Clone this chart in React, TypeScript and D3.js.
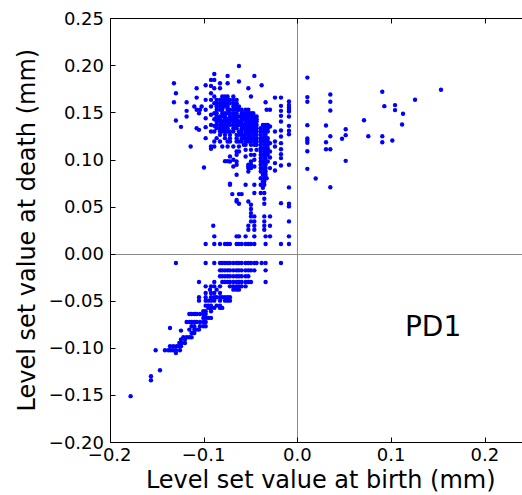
import React from 'react';
import * as d3 from 'd3';

const W = 522;
const H = 495;

const xDomain: [number, number] = [-0.2, 0.25];
const yDomain: [number, number] = [-0.2, 0.25];
const xTicks = [-0.2, -0.1, 0.0, 0.1, 0.2];
const yTicks = [0.25, 0.2, 0.15, 0.1, 0.05, 0.0, -0.05, -0.1, -0.15, -0.2];
const xLabel = 'Level set value at birth (mm)';
const yLabel = 'Level set value at death (mm)';
const panelLabel = 'PD1';

// sparse points of the upper-left cloud
const upperPts: [number, number][] = [
  [-0.1315, 0.181], [-0.1294, 0.1704], [-0.1315, 0.1609], [-0.1294, 0.1414],
  [-0.124, 0.1347],
  [-0.118, 0.1609], [-0.118, 0.1517], [-0.118, 0.1457],
  [-0.1137, 0.1139],
  [-0.1098, 0.1563],
  [-0.1073, 0.1757], [-0.1073, 0.1658], [-0.1073, 0.1528], [-0.1048, 0.1492], [-0.1073, 0.1333], [-0.1048, 0.1315],
  [-0.102, 0.1563], [-0.1038, 0.1528],
  [-0.0995, 0.0916],
  [-0.0977, 0.1789], [-0.0977, 0.1634], [-0.0977, 0.1528], [-0.0977, 0.1439], [-0.0977, 0.1344], [-0.0977, 0.1227],
  [-0.092, 0.1846], [-0.092, 0.1782], [-0.092, 0.1704], [-0.092, 0.1634], [-0.092, 0.1563], [-0.092, 0.1475],
  [-0.092, 0.1368], [-0.092, 0.1298], [-0.092, 0.1139], [-0.092, 0.1114],
  [-0.0885, 0.1909], [-0.0885, 0.1846], [-0.0885, 0.1757], [-0.0885, 0.1669], [-0.0885, 0.1598], [-0.0885, 0.1492],
  [-0.0885, 0.1429], [-0.0885, 0.1358], [-0.0885, 0.1298], [-0.0885, 0.1192], [-0.0885, 0.1139],
  [-0.0824, 0.181], [-0.0824, 0.1757], [-0.08, 0.1139], [-0.0771, 0.0983], [-0.0743, 0.0983],
  [-0.0718, 0.0743], [-0.0718, 0.0732], [-0.0693, 0.0633], [-0.0647, 0.0555], [-0.0622, 0.053], [-0.0593, 0.0633],
  [-0.0743, 0.1888], [-0.0743, 0.181], [-0.0622, 0.1994], [-0.0622, 0.1828], [-0.0522, 0.1757], [-0.0458, 0.1888],
  [-0.038, 0.1789], [-0.0494, 0.1669], [-0.0338, 0.1609], [-0.0327, 0.1528],
];

// dense rows of the upper cloud: each row is a death value and its birth values
const upperRowsY = [
  0.1669, 0.1634, 0.1598, 0.1563, 0.1528, 0.1492, 0.1457, 0.1429, 0.1404, 0.1368, 0.1333, 0.1298, 0.1262, 0.1227, 0.1192, 0.1139,
];
const upperRowsX = [
  [-0.08, -0.0771, -0.0743, -0.0682],
  [-0.086, -0.0824, -0.08, -0.0771, -0.0743, -0.0718, -0.0682, -0.0647],
  [-0.086, -0.0824, -0.08, -0.0771, -0.0743, -0.0718, -0.0682, -0.0647],
  [-0.086, -0.0824, -0.08, -0.0771, -0.0743, -0.0682, -0.0647, -0.0622],
  [-0.086, -0.0824, -0.08, -0.0743, -0.0718, -0.0682, -0.0647, -0.0622, -0.0593, -0.0551, -0.0522],
  [-0.086, -0.08, -0.0771, -0.0743, -0.0718, -0.0682, -0.0647, -0.0593, -0.057, -0.0551, -0.0522, -0.0494, -0.047],
  [-0.086, -0.0824, -0.08, -0.0771, -0.0718, -0.0682, -0.0647, -0.0622, -0.0593, -0.057, -0.0551, -0.0522, -0.0494, -0.047, -0.0458, -0.0434],
  [-0.086, -0.0824, -0.0771, -0.0743, -0.0718, -0.0682, -0.0647, -0.0593, -0.057, -0.0551, -0.0522, -0.0508, -0.0494, -0.047, -0.0458, -0.0434],
  [-0.086, -0.0824, -0.08, -0.0771, -0.0743, -0.0718, -0.0682, -0.0647, -0.0622, -0.0593, -0.0551, -0.0522, -0.0508, -0.0494, -0.047, -0.0458, -0.0434],
  [-0.086, -0.0824, -0.08, -0.0771, -0.0743, -0.0718, -0.0682, -0.0647, -0.0622, -0.0593, -0.057, -0.0551, -0.0522, -0.0494, -0.047, -0.0458, -0.0434, -0.0367, -0.0338, -0.0315],
  [-0.086, -0.0824, -0.08, -0.0771, -0.0743, -0.0682, -0.0647, -0.0593, -0.057, -0.0551, -0.0522, -0.0508, -0.0494, -0.047, -0.0434, -0.039, -0.0352, -0.0338, -0.0315],
  [-0.0824, -0.08, -0.0771, -0.0743, -0.0718, -0.0682, -0.0622, -0.0593, -0.0551, -0.0522, -0.0494, -0.047, -0.0458, -0.0434, -0.039, -0.0367, -0.0338, -0.0315],
  [-0.0824, -0.0771, -0.0718, -0.0647, -0.0622, -0.0593, -0.057, -0.0551, -0.0522, -0.0494, -0.0458, -0.0434, -0.039, -0.0352, -0.0338],
  [-0.086, -0.0771, -0.0718, -0.0647, -0.0593, -0.057, -0.0551, -0.0522, -0.0508, -0.0494, -0.047, -0.0434, -0.039, -0.0367, -0.0352, -0.0338, -0.0315],
  [-0.0824, -0.0743, -0.0718, -0.0647, -0.0622, -0.0593, -0.0551, -0.0522, -0.0494, -0.0458, -0.0434, -0.039, -0.0367, -0.0338, -0.0315],
  [-0.0743, -0.0682, -0.0622],
];

// mid rows (birth values per death row) of the cloud below 0.12
const midRowsY = [
  0.1156, 0.1121, 0.1103, 0.1086, 0.105, 0.1033, 0.1015, 0.0997, 0.0979, 0.0944, 0.0926, 0.0909, 0.0873, 0.0838, 0.0802, 0.0767, 0.0732, 0.07,
];
const midRowsX = [
  [-0.057, -0.0551, -0.0494, -0.0458, -0.0434, -0.039, -0.0352, -0.0338, -0.0315],
  [-0.039, -0.0367, -0.0338, -0.0315],
  [-0.0551, -0.0494, -0.0434],
  [-0.0647, -0.0622, -0.039, -0.0352, -0.0338, -0.0315],
  [-0.0647, -0.0494, -0.0458, -0.039, -0.0367, -0.0338, -0.0315],
  [-0.0718, -0.0551],
  [-0.039, -0.0352, -0.0338],
  [-0.0682, -0.0458],
  [-0.0718, -0.0647, -0.0494, -0.039, -0.0367, -0.0338, -0.0315],
  [-0.0647, -0.0522, -0.0494, -0.039, -0.0352, -0.0338],
  [-0.0682, -0.0522, -0.0458],
  [-0.0522, -0.0494, -0.039, -0.0367, -0.0338],
  [-0.0522, -0.039, -0.0352, -0.0338],
  [-0.0647, -0.0367, -0.0338],
  [-0.039, -0.0352, -0.0327],
  [-0.0367, -0.0352],
  [-0.0551, -0.0458, -0.039, -0.0352],
  [-0.0367],
];

// columns close to zero birth
const colX = [-0.0291, -0.0238, -0.0174, -0.0089];
const colY = [
  [0.1528, 0.1351, 0.1174, 0.1086, 0.1022, 0.0909, 0.0396, 0.0297, 0.0184],
  [0.1658, 0.1298, 0.1192, 0.1139, 0.0962, 0.0884],
  [0.1658, 0.157, 0.1517, 0.1464, 0.1404, 0.1308, 0.1245, 0.1174, 0.111, 0.1057, 0.1015, 0.0937, 0.0537],
  [0.1616, 0.158, 0.1552, 0.1528, 0.151, 0.1457, 0.1358, 0.1305, 0.1269, 0.0944, 0.0704, 0.053, 0.0502, 0.0343, 0.0184],
];

// low positive deaths
const lowPts: [number, number][] = [
  [-0.0494, 0.0431], [-0.0494, 0.0474], [-0.0494, 0.052], [-0.0522, 0.0555], [-0.0458, 0.0644],
  [-0.0622, 0.0633], [-0.0352, 0.0644], [-0.0352, 0.0583], [-0.0352, 0.053], [-0.0647, 0.057], [-0.039, 0.0644],
  [-0.0494, 0.0396], [-0.0458, 0.0396], [-0.0352, 0.0396],
  [-0.0494, 0.0343], [-0.0458, 0.0343], [-0.0352, 0.0343],
  [-0.0896, 0.0297], [-0.0522, 0.0297], [-0.0458, 0.0297], [-0.0352, 0.0297],
  [-0.0522, 0.0255], [-0.0458, 0.0255], [-0.0352, 0.0255],
  [-0.0885, 0.0184], [-0.0647, 0.0184], [-0.0622, 0.0184], [-0.0551, 0.0184], [-0.0458, 0.0184], [-0.0338, 0.0184],
];
const row0103X = [
  -0.0977, -0.0885, -0.0824, -0.0771, -0.0743, -0.0718, -0.0647, -0.0622, -0.0593, -0.0551, -0.0522, -0.0494, -0.0458, -0.0338, -0.0174, -0.0089,
];

// negative deaths: rows
const lowerRowsY = [
  -0.0099, -0.0177, -0.024, -0.0301, -0.0347, -0.0382, -0.0417, -0.0463, -0.0499, -0.0552, -0.0576, -0.0612, -0.064, -0.0682,
  -0.0725, -0.0771, -0.0789, -0.0806, -0.0817, -0.0842, -0.0888, -0.0912, -0.0948, -0.0983, -0.1025, -0.1054,
];
const lowerRowsX = [
  [-0.1294, -0.0977, -0.0885, -0.0824, -0.08, -0.0771, -0.0743, -0.0718, -0.0682, -0.0647, -0.0622, -0.0593, -0.0551, -0.0522, -0.0494, -0.0458, -0.0434, -0.038, -0.0338, -0.0174],
  [-0.0824, -0.08, -0.0771, -0.0743, -0.0718, -0.0682, -0.0647, -0.0622, -0.0593, -0.0551, -0.0522, -0.0494, -0.0458, -0.0338],
  [-0.0824, -0.08, -0.0771, -0.0743, -0.0718, -0.0682, -0.0647, -0.0622, -0.0593, -0.0551, -0.0522],
  [-0.1048, -0.0885, -0.08, -0.0771, -0.0743, -0.0718, -0.0682, -0.0647, -0.0622, -0.0593, -0.0551, -0.0522, -0.0494, -0.0338],
  [-0.0977, -0.092, -0.0885, -0.0824, -0.0718, -0.0682, -0.0647, -0.0622, -0.0593, -0.0551],
  [-0.0931, -0.086, -0.0682, -0.0647, -0.0622],
  [-0.0977, -0.092, -0.0885, -0.0824],
  [-0.1048, -0.0977, -0.092, -0.0885, -0.086, -0.0824, -0.08, -0.0771, -0.0743, -0.0718],
  [-0.1048, -0.0977, -0.0949, -0.092, -0.0885, -0.0824, -0.0771, -0.0743, -0.0718],
  [-0.0977, -0.0949, -0.092, -0.086, -0.0824],
  [-0.0949, -0.092, -0.0885, -0.0824, -0.08],
  [-0.1002, -0.0977, -0.092],
  [-0.1151, -0.1127, -0.1098, -0.1073, -0.1038, -0.1002, -0.0977],
  [-0.1002, -0.0977, -0.0949, -0.092],
  [-0.118, -0.1151, -0.1127, -0.1098, -0.1073, -0.1038, -0.1002, -0.0977],
  [-0.1127, -0.1098, -0.1038, -0.1002, -0.0977],
  [-0.1357],
  [-0.1151, -0.1098, -0.1073, -0.1048],
  [-0.124],
  [-0.1127, -0.1098],
  [-0.1215, -0.118, -0.1151, -0.1127],
  [-0.124, -0.1198],
  [-0.1258, -0.1233, -0.1198],
  [-0.1357, -0.1322, -0.1286, -0.1258, -0.124],
  [-0.151, -0.1411, -0.1375, -0.135, -0.1322, -0.1294, -0.1251],
  [-0.1294],
];
const tailPts: [number, number][] = [
  [-0.1464, -0.1238], [-0.156, -0.1301], [-0.156, -0.1344], [-0.1777, -0.1513],
];

// positive births
const rightPts: [number, number][] = [
  [0.0107, 0.187], [0.0107, 0.1663], [0.0107, 0.1614], [0.0107, 0.1365], [0.0107, 0.1223], [0.0107, 0.1202],
  [0.0107, 0.1178], [0.0107, 0.1088], [0.0107, 0.0901], [0.0196, 0.0798], [0.0352, 0.169], [0.0352, 0.1614],
  [0.0352, 0.1521], [0.0306, 0.1362], [0.0352, 0.1248], [0.0306, 0.1184], [0.0306, 0.111], [0.0352, 0.111],
  [0.0352, 0.0705], [0.0477, 0.122], [0.0516, 0.1259], [0.0516, 0.1322], [0.0516, 0.0986], [0.0711, 0.1418],
  [0.0757, 0.1248], [0.0906, 0.172], [0.0928, 0.1567], [0.0906, 0.1248], [0.0906, 0.1184], [0.1013, 0.1202],
  [0.1042, 0.1578], [0.1042, 0.1525], [0.1127, 0.1486], [0.1117, 0.1372], [0.1255, 0.1635], [0.1532, 0.1741],
];

const fromRows = (ys: number[], xs: number[][]): [number, number][] =>
  ys.flatMap((yv, i) => xs[i].map((xv) => [xv, yv] as [number, number]));

const allPoints: [number, number][] = [
  ...upperPts,
  ...fromRows(upperRowsY, upperRowsX),
  ...fromRows(midRowsY, midRowsX),
  ...colX.flatMap((xv, i) => colY[i].map((yv) => [xv, yv] as [number, number])),
  ...lowPts,
  ...row0103X.map((xv) => [xv, 0.0103] as [number, number]),
  ...fromRows(lowerRowsY, lowerRowsX),
  ...tailPts,
  ...rightPts,
];

export default function App() {
  const left = 109.7;
  const top = 18.3;
  const bottom = 442;
  const right = 531.8;
  const x = d3.scaleLinear().domain(xDomain).range([left, right]);
  const y = d3.scaleLinear().domain(yDomain).range([bottom, top]);
  const fx = d3.format('.1f');
  const fy = d3.format('.2f');
  const font = 'DejaVu Sans, sans-serif';
  const crisp = (v: number) => Math.round(v) + 0.5;
  const L = crisp(left);
  const T = crisp(top);
  const B = crisp(bottom);
  const tickLen = 5;

  return (
    <div style={{ position: 'absolute', left: 0, top: 0 }}>
      <svg width={W} height={H} style={{ display: 'block', background: '#fff' }} fontFamily={font}>
        <rect x={0} y={0} width={W} height={H} fill="#fff" />
        {/* zero lines */}
        <line x1={crisp(x(0))} x2={crisp(x(0))} y1={T} y2={B} stroke="#8a8a8a" strokeWidth={1} />
        <line x1={L} x2={right} y1={crisp(y(0))} y2={crisp(y(0))} stroke="#8a8a8a" strokeWidth={1} />
        {/* points */}
        <g fill="#0000ff">
          {allPoints.map(([px, py], i) => (
            <circle key={i} cx={x(px)} cy={y(py)} r={2.2} />
          ))}
        </g>
        {/* spines */}
        <line x1={L} x2={L} y1={T} y2={B} stroke="#000" strokeWidth={1} />
        <line x1={L} x2={right + 1} y1={B} y2={B} stroke="#000" strokeWidth={1} />
        <line x1={L} x2={right + 1} y1={T} y2={T} stroke="#000" strokeWidth={1} />
        {/* x ticks */}
        {xTicks.map((t) => (
          <g key={'x' + t}>
            <line x1={crisp(x(t))} x2={crisp(x(t))} y1={B} y2={B - tickLen} stroke="#000" />
            <line x1={crisp(x(t))} x2={crisp(x(t))} y1={T} y2={T + tickLen} stroke="#000" />
            <text x={x(t)} y={461} textAnchor="middle" fontSize={18} fill="#000">
              {fx(t)}
            </text>
          </g>
        ))}
        {/* y ticks */}
        {yTicks.map((t) => (
          <g key={'y' + t}>
            <line x1={L} x2={L + tickLen} y1={crisp(y(t))} y2={crisp(y(t))} stroke="#000" />
            <text x={104} y={y(t) + 6.5} textAnchor="end" fontSize={18} fill="#000">
              {fy(t)}
            </text>
          </g>
        ))}
        {/* labels */}
        <text x={(left + right) / 2} y={488} textAnchor="middle" fontSize={24} fill="#000">
          {xLabel}
        </text>
        <text
          transform={`translate(35,${(top + bottom) / 2}) rotate(-90)`}
          textAnchor="middle"
          fontSize={24}
          fill="#000"
        >
          {yLabel}
        </text>
        <text x={x(0.1148)} y={y(-0.0872)} fontSize={28} fill="#000">
          {panelLabel}
        </text>
      </svg>
    </div>
  );
}
